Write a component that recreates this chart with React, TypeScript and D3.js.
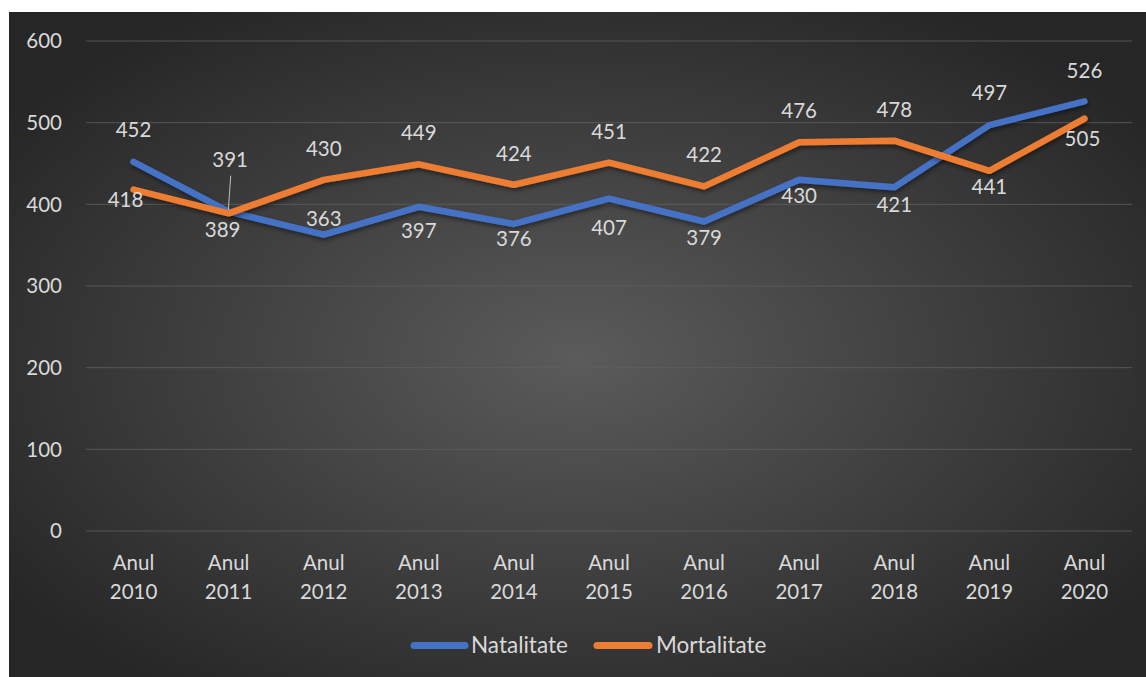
import React from "react";
import * as d3 from "d3";

const categories = ["Anul 2010","Anul 2011","Anul 2012","Anul 2013","Anul 2014","Anul 2015","Anul 2016","Anul 2017","Anul 2018","Anul 2019","Anul 2020"];
const natalitate = [452, 391, 363, 397, 376, 407, 379, 430, 421, 497, 526];
const mortalitate = [418, 389, 430, 449, 424, 451, 422, 476, 478, 441, 505];
const yTicks = [0, 100, 200, 300, 400, 500, 600];

// label layout: offset of label centre from its point, in px
const natLabelOffset: [number, number][] = [[0,-32],[1.5,-52],[0,-16],[0,24],[0,15],[0,29],[0,16],[0,16],[0,17],[0,-32],[0,-31]];
const mortLabelOffset: [number, number][] = [[-8,10],[-6,16],[0,-31.5],[0,-31.5],[0,-31.5],[0,-31.5],[0,-31.5],[0,-31.5],[0,-31.5],[0,16],[-2,20]];

const W = 1146, H = 677;
const FONT = "Lato, 'Open Sans', sans-serif";
const FS = 20.5;
const TXT = "#d9d9d9";

export default function App() {
  const x = d3.scaleBand().domain(categories).range([86, 1132]);
  const cx = (c: string) => (x(c) as number) + x.bandwidth() / 2;
  const y = d3.scaleLinear().domain([0, 600]).range([531, 41]);
  const line = d3.line<number>().x((_, i) => cx(categories[i])).y(d => y(d));

  const labels = (vals: number[], offs: [number, number][], key: string) =>
    vals.map((v, i) => {
      const px = cx(categories[i]), py = y(v);
      const [dx, dy] = offs[i];
      return (
        <text key={key + i} x={px + dx} y={py + dy + FS * 0.36} textAnchor="middle" fill={TXT} fontFamily={FONT} fontSize={FS}>{v}</text>
      );
    });

  const leadX = cx(categories[1]);
  const leadY = y(natalitate[1]);

  return (
    <svg width={W} height={H} style={{ position: "absolute", left: 0, top: 0 }}>
      <defs>
        <radialGradient id="bg" cx="50%" cy="52%" r="62%">
          <stop offset="0%" stopColor="#5b5b5b" />
          <stop offset="100%" stopColor="#262626" />
        </radialGradient>
        <filter id="sh" x="-10%" y="-10%" width="120%" height="130%">
          <feDropShadow dx="1" dy="2.5" stdDeviation="2" floodColor="#000" floodOpacity="0.45" />
        </filter>
      </defs>
      <rect x={0} y={0} width={W} height={H} fill="#ffffff" />
      <rect x={9} y={12} width={W - 9} height={H - 12} fill="url(#bg)" />
      {yTicks.map(t => (
        <g key={t}>
          <line x1={86} x2={1132} y1={y(t)} y2={y(t)} stroke="#5f5f5f" strokeWidth={1} opacity={0.8} />
          <text x={62} y={y(t) + FS * 0.36} textAnchor="end" fill={TXT} fontFamily={FONT} fontSize={FS}>{t}</text>
        </g>
      ))}
      {categories.map(c => {
        const [a, b] = c.split(" ");
        return (
          <text key={c} x={cx(c)} textAnchor="middle" fill={TXT} fontFamily={FONT} fontSize={FS}>
            <tspan x={cx(c)} y={563 + FS * 0.36}>{a}</tspan>
            <tspan x={cx(c)} y={592 + FS * 0.36}>{b}</tspan>
          </text>
        );
      })}
      <path d={line(natalitate) as string} fill="none" stroke="#4472C4" strokeWidth={6.5} strokeLinecap="round" strokeLinejoin="round" filter="url(#sh)" />
      <path d={line(mortalitate) as string} fill="none" stroke="#ED7D31" strokeWidth={6.5} strokeLinecap="round" strokeLinejoin="round" filter="url(#sh)" />
      <line x1={leadX - 0.3} y1={leadY - 2} x2={leadX + 2.1} y2={leadY - 36} stroke="#bfbfbf" strokeWidth={1} />
      {labels(natalitate, natLabelOffset, "n")}
      {labels(mortalitate, mortLabelOffset, "m")}
      <g fontFamily={FONT} fontSize={22.5} fill={TXT}>
        <line x1={414} x2={465} y1={645.5} y2={645.5} stroke="#4472C4" strokeWidth={7} strokeLinecap="round" />
        <text x={471} y={645 + 22.5 * 0.36}>Natalitate</text>
        <line x1={597} x2={649} y1={645.5} y2={645.5} stroke="#ED7D31" strokeWidth={7} strokeLinecap="round" />
        <text x={656} y={645 + 22.5 * 0.36}>Mortalitate</text>
      </g>
    </svg>
  );
}
